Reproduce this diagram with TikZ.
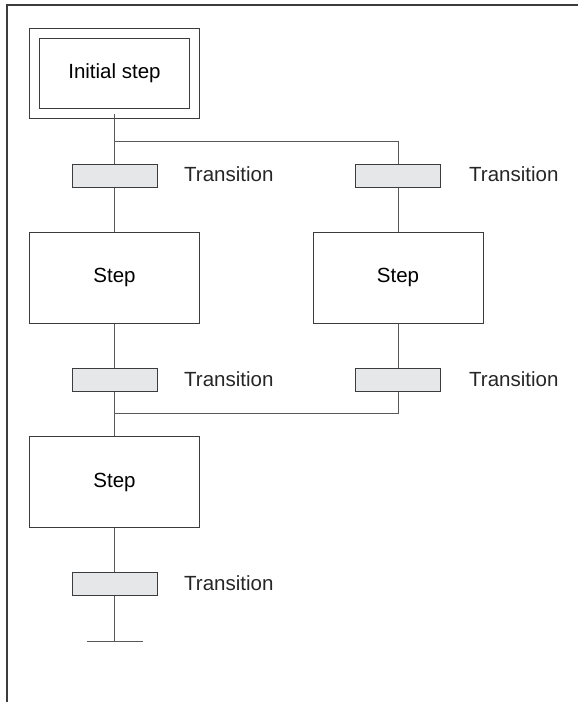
\documentclass[tikz,border=0pt]{standalone}
\usepackage{fontspec}
\setmainfont{Liberation Sans}
\usepackage{tikz}
\usetikzlibrary{positioning}

\definecolor{transgray}{HTML}{E6E7E8}
\definecolor{linegray}{HTML}{3C3C3C}

\begin{document}
\begin{tikzpicture}[x=1pt,y=1pt,
    every node/.style={inner sep=0pt,font=\fontsize{20.5}{24}\selectfont},
    initstep/.style={draw=linegray,line width=1pt,double,double distance=9.5pt,minimum width=160,minimum height=80},
    stepbox/.style={draw=linegray,line width=1pt,minimum width=170,minimum height=91},
    transbox/.style={draw=linegray,line width=1pt,fill=transgray,minimum width=85,minimum height=23},
    translabel/.style={anchor=west,text=black!85},
    link/.style={draw=linegray!85,line width=1pt}]
    \useasboundingbox (0,0) rectangle (578,-702);
    % frame
    \draw [linegray,line width=2pt] (7,-702) -- (7,-5) -- (578,-5);
    % steps
    \node [initstep] (init) at (114.5,-73.5) {Initial step};
    \node [stepbox] (stepL) at (114.5,-277.5) {Step};
    \node [stepbox] (stepR) at (398,-277.5) {Step};
    \node [stepbox] (stepB) at (114.5,-482) {Step};
    % transitions
    \node [transbox] (t1) at (114.5,-175.5) {};
    \node [transbox] (t2) at (398,-175.5) {};
    \node [transbox] (t3) at (114.5,-380) {};
    \node [transbox] (t4) at (398,-380) {};
    \node [transbox] (t5) at (114.5,-584) {};
    \node [translabel] (l1) at (184,-174) {Transition};
    \node [translabel] (l2) at (469,-174) {Transition};
    \node [translabel] (l3) at (184,-379) {Transition};
    \node [translabel] (l4) at (469,-379) {Transition};
    \node [translabel] (l5) at (184,-583) {Transition};
    % branch and join
    \coordinate (fork) at (114.5,-141);
    \coordinate (forkR) at (398,-141);
    \coordinate (join) at (114.5,-413);
    \coordinate (joinR) at (398,-413);
    \coordinate (endL) at (87,-641);
    \coordinate (endR) at (143,-641);
    \coordinate (endC) at (114.5,-641);
    \draw [link] (init.south) -- (t1.north);
    \draw [link] (fork) -- (forkR) -- (t2.north);
    \draw [link] (t1.south) -- (stepL.north);
    \draw [link] (t2.south) -- (stepR.north);
    \draw [link] (stepL.south) -- (t3.north);
    \draw [link] (stepR.south) -- (t4.north);
    \draw [link] (t4.south) -- (joinR) -- (join);
    \draw [link] (t3.south) -- (stepB.north);
    \draw [link] (stepB.south) -- (t5.north);
    \draw [link] (t5.south) -- (endC);
    \draw [link] (endL) -- (endR);
\end{tikzpicture}
\end{document}
